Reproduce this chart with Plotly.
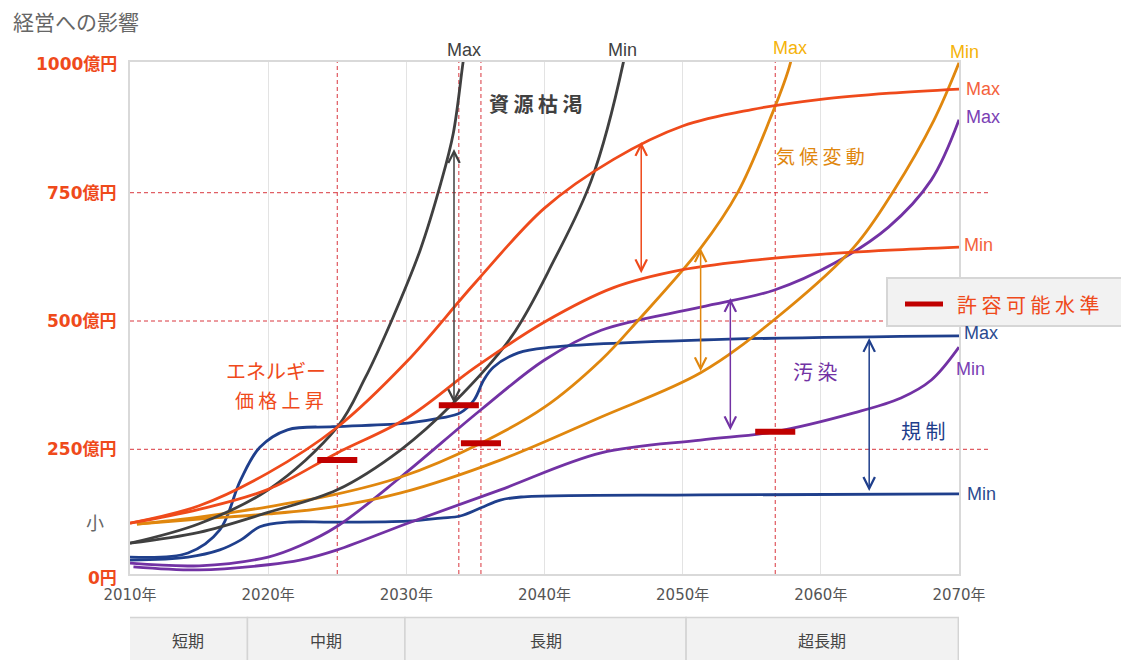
import plotly.graph_objects as go

# ---------------- data ----------------
# エネルギー価格上昇 (energy price rise)
energy_max_x = [2010, 2015, 2020, 2025, 2030, 2035, 2040, 2045, 2050, 2055, 2060, 2065, 2070]
energy_max_y = [106, 140, 204, 293, 420, 575, 720, 815, 880, 912, 932, 944, 952]
energy_min_x = [2010, 2015, 2020, 2025, 2030, 2035, 2040, 2045, 2050, 2055, 2060, 2065, 2070]
energy_min_y = [106, 133, 172, 243, 310, 410, 498, 565, 600, 618, 630, 638, 644]

# 資源枯渇 (resource depletion)
resource_max_x = [2010, 2015, 2020, 2025, 2027, 2029, 2031, 2032.5, 2033.4, 2034.1, 2034.6]
resource_max_y = [67, 105, 171, 293, 388, 505, 638, 769, 866, 1003, 1100]
resource_min_x = [2010, 2015, 2020, 2025, 2029.6, 2033.4, 2037.6, 2040.7, 2043.4, 2045.7, 2046.3]
resource_min_y = [67, 88, 127, 171, 249, 340, 469, 619, 775, 1003, 1100]

# 気候変動 (climate change)
climate_max_x = [2010.5, 2015, 2020, 2024.7, 2029.6, 2035.4, 2040, 2044.1, 2046.8, 2051.3, 2054, 2056.3, 2057.8, 2058.4]
climate_max_y = [104, 118, 138, 161, 196, 262, 332, 424, 502, 642, 751, 892, 1003, 1100]
climate_min_x = [2010.5, 2015, 2020, 2024.7, 2029.6, 2036.8, 2044.1, 2051.3, 2056.6, 2062.4, 2065.3, 2068.2, 2070]
climate_min_y = [104, 114, 124, 138, 165, 229, 313, 399, 502, 644, 755, 892, 1003]

# 汚染 (pollution)
pollution_max_x = [2010, 2015, 2020, 2022.3, 2025, 2029.6, 2035.4, 2040, 2044.1, 2051.3, 2056.6, 2061, 2064.9, 2068, 2070]
pollution_max_y = [28, 23, 40, 62, 100, 196, 327, 424, 482, 527, 560, 613, 683, 775, 892]
pollution_min_x = [2010.25, 2015, 2020, 2022.3, 2025, 2030.1, 2036.8, 2044.1, 2051.3, 2056.6, 2062.4, 2065.8, 2068, 2070]
pollution_min_y = [21, 15, 25, 34, 54, 106, 171, 243, 268, 284, 321, 350, 385, 449]

# 規制 (regulation)
regulation_max_x = [2010, 2014.2, 2016.5, 2018.0, 2019.4, 2021.4, 2024.7, 2030.1, 2032.5, 2033.9, 2034.9, 2035.6, 2036.3, 2038.1, 2040.5, 2051.3, 2070]
regulation_max_y = [40, 48, 93, 190, 254, 288, 294, 301, 311, 321, 346, 385, 410, 438, 449, 463, 471]
regulation_min_x = [2010, 2014.2, 2016.5, 2018.0, 2019.4, 2021.4, 2024.7, 2030.1, 2032.5, 2033.9, 2035.4, 2036.8, 2038.3, 2051.3, 2070]
regulation_min_y = [34, 40, 54, 73, 99, 108, 108, 110, 116, 120, 136, 151, 157, 161, 163]

# 許容可能水準 (acceptable level) marks
permit_x = [2025.0, 2033.8, 2035.4, 2056.7]
permit_y = [229, 336, 262, 284]

# range arrows: (x, low, high)
arrow_x = [2033.45, 2047.0, 2051.3, 2053.45, 2063.5]
arrow_low = [337, 590, 399, 284, 166]
arrow_high = [835, 849, 642, 545, 467]

y_tick_vals = [1000, 750, 500, 250, 0]
y_tick_text = ["1000億円", "750億円", "500億円", "250億円", "0円"]
x_tick_vals = [2010, 2020, 2030, 2040, 2050, 2060, 2070]
x_tick_text = ["2010年", "2020年", "2030年", "2040年", "2050年", "2060年", "2070年"]

period_edges = [2009.9, 2018.5, 2029.9, 2050.25, 2069.95]
period_labels = ["短期", "中期", "長期", "超長期"]

# ---------------- styles ----------------
C_ENERGY = "#ef4a1b"
C_RES = "#404040"
C_CLIM = "#e0870e"
C_POLL = "#7232a4"
C_REG = "#1f3f8c"
C_PERMIT = "#c00000"
C_DASH = "#d9363e"
CJK = "Noto Sans CJK JP"
LAT = "Liberation Sans"

Y0, Y1 = 7, 1004.7
PX_L, PX_W, PX_B, PX_H = 130, 829, 574, 512


def py(v):
    return (v - Y0) / (Y1 - Y0)


def ppx(px):
    return (px - PX_L) / PX_W


def ppy(pix):
    return (PX_B - pix) / PX_H


fig = go.Figure()


def curve(x, y, color):
    fig.add_trace(go.Scatter(x=x, y=y, mode="lines", line=dict(color=color, width=2.8, shape="spline", smoothing=1.0),
                             hoverinfo="skip", showlegend=False))


curve(regulation_min_x, regulation_min_y, C_REG)
curve(pollution_min_x, pollution_min_y, C_POLL)
curve(pollution_max_x, pollution_max_y, C_POLL)
curve(regulation_max_x, regulation_max_y, C_REG)
curve(climate_min_x, climate_min_y, C_CLIM)
curve(climate_max_x, climate_max_y, C_CLIM)
curve(resource_min_x, resource_min_y, C_RES)
curve(resource_max_x, resource_max_y, C_RES)
curve(energy_min_x, energy_min_y, C_ENERGY)
curve(energy_max_x, energy_max_y, C_ENERGY)

# acceptable level marks
for px_, pv in zip(permit_x, permit_y):
    fig.add_trace(go.Scatter(x=[px_ - 1.45, px_ + 1.45], y=[pv, pv], mode="lines",
                             line=dict(color=C_PERMIT, width=6), hoverinfo="skip", showlegend=False))

shapes = []
for v in [250, 500, 750]:
    shapes.append(dict(type="line", xref="paper", yref="y", x0=0, x1=1.035, y0=v, y1=v,
                       line=dict(color=C_DASH, width=1, dash="4px,3px"), layer="below"))
for px_ in permit_x:
    shapes.append(dict(type="line", xref="x", yref="paper", x0=px_, x1=px_, y0=0, y1=1,
                       line=dict(color=C_DASH, width=1, dash="4px,3px"), layer="below"))
for i, lab in enumerate(period_labels):
    shapes.append(dict(type="rect", xref="x", yref="paper", x0=period_edges[i], x1=period_edges[i + 1],
                       y0=-0.2, y1=ppy(617.5), fillcolor="#f2f2f2", line=dict(color="#d4d4d4", width=1.5)))
shapes.append(dict(type="rect", xref="paper", yref="paper", x0=ppx(887), x1=1.25, y0=ppy(326), y1=ppy(278),
                   fillcolor="#f2f2f2", line=dict(color="#d6d6d6", width=2), layer="above"))
shapes.append(dict(type="line", xref="paper", yref="paper", x0=ppx(905), x1=ppx(943), y0=ppy(304), y1=ppy(304),
                   line=dict(color=C_PERMIT, width=5), layer="above"))

ann = []
arrow_colors = [C_RES, C_ENERGY, C_CLIM, C_POLL, C_REG]
for ax_, lo, hi, col in zip(arrow_x, arrow_low, arrow_high, arrow_colors):
    ann.append(dict(x=ax_, y=hi, ax=ax_, ay=lo, xref="x", yref="y", axref="x", ayref="y", text="",
                    showarrow=True, arrowside="end+start", arrowhead=5, startarrowhead=5,
                    arrowsize=1.5, startarrowsize=1.5, arrowwidth=1.5, arrowcolor=col, standoff=0, startstandoff=0))

# y tick labels
for v, t in zip(y_tick_vals, y_tick_text):
    ann.append(dict(x=ppx(119), xref="paper", y=py(v), yref="paper", text=t, showarrow=False, xanchor="right",
                    yanchor="middle", font=dict(family="DejaVu Sans, " + CJK, size=17, color=C_ENERGY, weight="bold")))
ann.append(dict(x=ppx(95), xref="paper", y=ppy(522), yref="paper", text="小", showarrow=False,
                xanchor="center", yanchor="middle", font=dict(family=CJK, size=18, color="#666666")))

# title
ann.append(dict(x=ppx(11), xref="paper", y=ppy(21), yref="paper", text="経営への影響",
                showarrow=False, xanchor="left", yanchor="middle", font=dict(family=CJK, size=21, color="#666666")))


def lab(text, pxx, pyy, color, xanchor="left"):
    ann.append(dict(x=ppx(pxx), y=ppy(pyy), xref="paper", yref="paper", text=text, showarrow=False,
                    xanchor=xanchor, yanchor="middle", font=dict(family=LAT, size=18, color=color)))


lab("Max", 464, 50, C_RES, "center")
lab("Min", 622, 50, C_RES, "center")
lab("Max", 790, 48, "#f5b30a", "center")
lab("Min", 965, 52, "#f5b30a", "center")
lab("Max", 964, 89, "#f4623c")
lab("Min", 962, 245, "#f4623c")
lab("Max", 964, 117, "#7a40b4")
lab("Min", 954, 369, "#7a40b4")
lab("Max", 962, 333, "#2a4a90")
lab("Min", 965, 494, "#2a4a90")


def cat(text, x, y, color, size=19, weight="normal"):
    ann.append(dict(x=x, y=y, xref="x", yref="y", text=text, showarrow=False, xanchor="center", yanchor="middle",
                    font=dict(family=CJK, size=size, color=color, weight=weight)))


cat("資 源 枯 渇", 2039.4, 923, C_RES, 20, "bold")
cat("気 候 変 動", 2060.0, 823, C_CLIM, 19)
cat("エネルギー", 2020.6, 403, C_ENERGY, 20)
cat("価 格 上 昇", 2020.8, 348, C_ENERGY, 19)
cat("汚 染", 2059.6, 401, C_POLL, 20)
cat("規 制", 2067.4, 286, C_REG, 20)

ann.append(dict(x=ppx(955), xref="paper", y=ppy(304), yref="paper", text="許 容 可 能 水 準", showarrow=False,
                xanchor="left", yanchor="middle", font=dict(family=CJK, size=20, color=C_ENERGY)))

for i, lab_ in enumerate(period_labels):
    ann.append(dict(x=(period_edges[i] + period_edges[i + 1]) / 2, xref="x", y=ppy(640), yref="paper",
                    text=lab_, showarrow=False, xanchor="center", yanchor="middle",
                    font=dict(family=CJK, size=16, color="#444444")))

fig.update_layout(
    width=1121, height=660,
    margin=dict(l=130, r=162, t=62, b=86),
    paper_bgcolor="white", plot_bgcolor="white",
    showlegend=False,
    shapes=shapes, annotations=ann,
    xaxis=dict(range=[2010, 2070], tickvals=x_tick_vals, ticktext=x_tick_text, showgrid=True,
               gridcolor="#e3e3e3", gridwidth=1, showline=True, mirror=True, linecolor="#d9d9d9", linewidth=2,
               zeroline=False, ticks="", ticklabelstandoff=6,
               tickfont=dict(family="DejaVu Sans, " + CJK, size=15, color="#555555")),
    yaxis=dict(range=[Y0, Y1], showgrid=False, showticklabels=False, showline=True, mirror=True,
               linecolor="#d9d9d9", linewidth=2, zeroline=False, ticks=""),
)

fig.write_html("out.html")
